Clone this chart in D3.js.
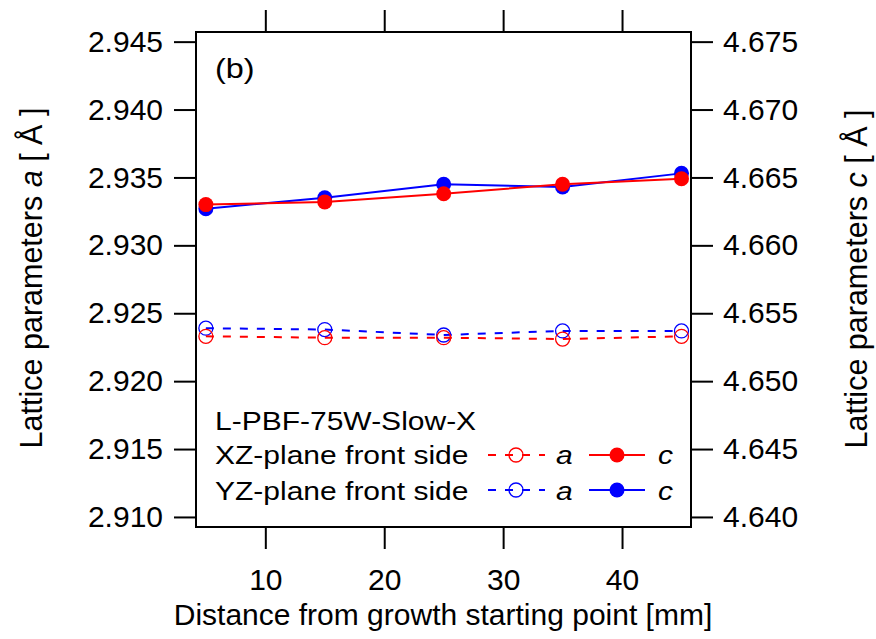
<!DOCTYPE html>
<html>
<head>
<meta charset="utf-8">
<script src="https://cdn.jsdelivr.net/npm/d3@7"></script>
<style>
  body { margin: 0; background: #fff; }
  svg text { font-family: "Liberation Sans", Arial, sans-serif; fill: #000; }
</style>
</head>
<body>
<div id="chart"></div>
<script>
// data
var distance = [5, 15, 25, 35, 45];
var xzA = [2.9233, 2.9232, 2.9232, 2.9231, 2.9233];
var yzA = [2.9239, 2.9238, 2.9234, 2.9237, 2.9237];
var xzC = [4.6630, 4.6632, 4.6638, 4.6645, 4.6649];
var yzC = [4.6627, 4.6635, 4.6645, 4.6643, 4.6653];
var xTicks = [10, 20, 30, 40];
var aTicks = [2.910, 2.915, 2.920, 2.925, 2.930, 2.935, 2.940, 2.945];
var cTicks = [4.640, 4.645, 4.650, 4.655, 4.660, 4.665, 4.670, 4.675];

var svgWidth = 876, svgHeight = 639;
var margin = {top: 32, right: 185, bottom: 112, left: 196},
    width = svgWidth - margin.left - margin.right,
    height = svgHeight - margin.top - margin.bottom;

var svg = d3.select("#chart")
  .append("svg")
  .attr("width", svgWidth)
  .attr("height", svgHeight);

var g = svg.append("g")
  .attr("transform", "translate(" + margin.left + "," + margin.top + ")");

var x = d3.scaleLinear().domain([4.17, 45.8]).range([0, width]);
var yA = d3.scaleLinear().domain([2.90926, 2.94571]).range([height, 0]);
var yC = d3.scaleLinear().domain([4.63926, 4.67571]).range([height, 0]);

// frame
g.append("rect")
  .attr("width", width).attr("height", height)
  .attr("fill", "none").attr("stroke", "#000").attr("stroke-width", 2);

function styleAxis(sel) {
  sel.select(".domain").remove();
  sel.selectAll("line").attr("stroke", "#000").attr("stroke-width", 2);
  sel.selectAll("text").attr("font-size", "30px").attr("fill", "#000")
    .style("font-family", "'Liberation Sans', Arial, sans-serif");
}

g.append("g")
  .attr("transform", "translate(0," + height + ")")
  .call(d3.axisBottom(x).tickValues(xTicks).tickSize(22).tickPadding(20).tickFormat(d3.format("d")))
  .call(styleAxis);

g.append("g")
  .call(d3.axisTop(x).tickValues(xTicks).tickSize(22).tickFormat(""))
  .call(styleAxis);

g.append("g")
  .call(d3.axisLeft(yA).tickValues(aTicks).tickSize(22).tickPadding(11).tickFormat(d3.format(".3f")))
  .call(styleAxis);

g.append("g")
  .attr("transform", "translate(" + width + ",0)")
  .call(d3.axisRight(yC).tickValues(cTicks).tickSize(22).tickPadding(10).tickFormat(d3.format(".3f")))
  .call(styleAxis);

// axis titles
svg.append("text")
  .attr("x", 443).attr("y", 625)
  .attr("text-anchor", "middle").attr("font-size", "30px")
  .text("Distance from growth starting point [mm]");

var lt = svg.append("text")
  .attr("transform", "translate(41.5,278) rotate(-90)")
  .attr("text-anchor", "middle").attr("font-size", "30.5px");
lt.append("tspan").text("Lattice parameters ");
lt.append("tspan").attr("font-style", "italic").text("a");
lt.append("tspan").text(" [ Å ]");

var rt = svg.append("text")
  .attr("transform", "translate(866.5,279) rotate(-90)")
  .attr("text-anchor", "middle").attr("font-size", "30.5px");
rt.append("tspan").text("Lattice parameters ");
rt.append("tspan").attr("font-style", "italic").text("c");
rt.append("tspan").text(" [ Å ]");

// series
var series = [
  {vals: yzA, scale: yA, color: "#0000ff", open: true},
  {vals: xzA, scale: yA, color: "#ff0000", open: true},
  {vals: yzC, scale: yC, color: "#0000ff", open: false},
  {vals: xzC, scale: yC, color: "#ff0000", open: false}
];

series.forEach(function(s) {
  var line = d3.line()
    .x(function(d, i) { return x(distance[i]); })
    .y(function(d) { return s.scale(d); });
  g.append("path")
    .datum(s.vals)
    .attr("d", line)
    .attr("fill", "none")
    .attr("stroke", s.color)
    .attr("stroke-width", 2)
    .attr("stroke-dasharray", s.open ? "8,9" : null);
  g.selectAll(null)
    .data(s.vals)
    .enter()
    .append("circle")
      .attr("cx", function(d, i) { return x(distance[i]); })
      .attr("cy", function(d) { return s.scale(d); })
      .attr("r", s.open ? 7 : 7.5)
      .attr("fill", s.open ? "none" : s.color)
      .attr("stroke", s.color)
      .attr("stroke-width", s.open ? 1.3 : 0);
});

// wide text used inside the plot (panel label and legend)
function wideText(px, py, size, str, italic) {
  var t = svg.append("text")
    .attr("transform", "translate(" + px + "," + py + ") scale(1.2,1)")
    .attr("font-size", size + "px")
    .text(str);
  if (italic) t.attr("font-style", "italic");
  return t;
}

// panel label
wideText(215, 78, 27, "(b)");

// legend
wideText(215, 429.5, 25, "L-PBF-75W-Slow-X");
var legendRows = [
  {label: "XZ-plane front side", color: "#ff0000", y: 455, base: 464},
  {label: "YZ-plane front side", color: "#0000ff", y: 490, base: 499.5}
];
legendRows.forEach(function(r) {
  wideText(215, r.base, 25, r.label);
  svg.append("line").attr("x1", 488).attr("x2", 545).attr("y1", r.y).attr("y2", r.y)
    .attr("stroke", r.color).attr("stroke-width", 2).attr("stroke-dasharray", "8,9");
  svg.append("circle").attr("cx", 516).attr("cy", r.y).attr("r", 7)
    .attr("fill", "none").attr("stroke", r.color).attr("stroke-width", 1.3);
  wideText(556, r.base, 25, "a", true);
  svg.append("line").attr("x1", 589).attr("x2", 645).attr("y1", r.y).attr("y2", r.y)
    .attr("stroke", r.color).attr("stroke-width", 2);
  svg.append("circle").attr("cx", 617).attr("cy", r.y).attr("r", 7.5).attr("fill", r.color);
  wideText(658, r.base, 25, "c", true);
});
</script>
</body>
</html>
